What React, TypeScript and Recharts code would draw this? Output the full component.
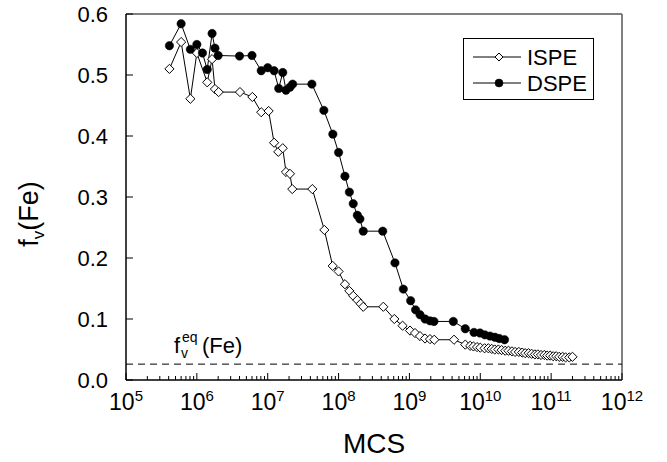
import React from "react";
import { ComposedChart, Line, XAxis, YAxis, ReferenceLine, ReferenceArea, Label } from "recharts";

// ISPE: open diamonds
const ispeMcs = [
  4.1e5, 6.0e5, 8.1e5, 1.0e6, 1.4e6, 1.64e6, 1.8e6, 2.03e6, 4.06e6, 6.07e6, 8.1e6, 1.03e7, 1.23e7, 1.41e7, 1.63e7,
  1.81e7, 2.06e7, 2.22e7, 4.26e7, 6.3e7, 8.26e7, 1.0e8, 1.23e8, 1.42e8, 1.61e8, 1.84e8, 2.05e8, 2.23e8, 4.28e8,
  6.12e8, 8.0e8, 1.02e9, 1.2e9, 1.41e9, 1.66e9, 1.95e9, 2.24e9, 4.26e9, 6.14e9, 7.2e9, 8.0e9, 9.0e9, 1.0e10,
  1.15e10, 1.3e10, 1.45e10, 1.6e10, 1.8e10, 2.0e10, 2.25e10, 2.5e10, 2.8e10, 3.1e10, 3.5e10, 3.9e10, 4.3e10, 4.8e10,
  5.3e10, 5.9e10, 6.5e10, 7.2e10, 8.0e10, 8.8e10, 9.7e10, 1.07e11, 1.18e11, 1.3e11, 1.45e11, 1.6e11, 1.8e11, 2.0e11,
];
const ispeFv = [
  0.51, 0.554, 0.461, 0.536, 0.488, 0.526, 0.477, 0.472, 0.472, 0.464, 0.439, 0.441, 0.389, 0.374, 0.38,
  0.341, 0.338, 0.313, 0.313, 0.246, 0.187, 0.178, 0.157, 0.146, 0.138, 0.131, 0.125, 0.12, 0.12,
  0.1, 0.089, 0.081, 0.077, 0.072, 0.068, 0.067, 0.066, 0.066, 0.058, 0.056, 0.055, 0.054, 0.053,
  0.052, 0.052, 0.051, 0.05, 0.05, 0.049, 0.048, 0.048, 0.047, 0.046, 0.046, 0.045, 0.044, 0.044,
  0.043, 0.042, 0.042, 0.041, 0.041, 0.04, 0.04, 0.039, 0.039, 0.038, 0.038, 0.037, 0.037, 0.038,
];

// DSPE: filled circles
const dspeMcs = [
  4.1e5, 6.0e5, 8.1e5, 1.0e6, 1.2e6, 1.4e6, 1.64e6, 1.8e6, 2.0e6, 4.0e6, 6.0e6, 8.1e6, 1.0e7, 1.23e7, 1.43e7,
  1.63e7, 1.81e7, 2.06e7, 2.25e7, 4.2e7, 6.2e7, 8.3e7, 1.0e8, 1.23e8, 1.42e8, 1.61e8, 1.84e8, 2.0e8, 2.23e8,
  4.2e8, 6.25e8, 8.2e8, 1.04e9, 1.22e9, 1.41e9, 1.66e9, 1.95e9, 2.22e9, 4.16e9, 6.14e9, 8.15e9, 9.9e9, 1.16e10,
  1.37e10, 1.61e10, 1.85e10, 2.2e10,
];
const dspeFv = [
  0.548, 0.584, 0.542, 0.55, 0.536, 0.509, 0.568, 0.544, 0.532, 0.531, 0.532, 0.507, 0.512, 0.507, 0.478,
  0.504, 0.475, 0.48, 0.485, 0.485, 0.442, 0.403, 0.373, 0.334, 0.308, 0.289, 0.27, 0.264, 0.244,
  0.244, 0.192, 0.149, 0.13, 0.115, 0.107, 0.1, 0.097, 0.096, 0.096, 0.084, 0.078, 0.077, 0.074,
  0.072, 0.07, 0.068, 0.066,
];

const fvEquilibrium = 0.026;
const xExponents = [5, 6, 7, 8, 9, 10, 11, 12];
const minorSteps = [2, 3, 4, 5, 6, 7, 8, 9];
const yTicks = [0, 0.1, 0.2, 0.3, 0.4, 0.5, 0.6];
const seriesNames = ["ISPE", "DSPE"];

const FONT = "'Liberation Sans', Arial, Helvetica, sans-serif";

const ispeData = ispeMcs.map((x, i) => ({ x, fv: ispeFv[i] }));
const dspeData = dspeMcs.map((x, i) => ({ x, fv: dspeFv[i] }));
const majorTicks = xExponents.map((e) => Math.pow(10, e));
const xTicks = [
  ...majorTicks,
  ...xExponents.slice(0, -1).flatMap((e) => minorSteps.map((m) => m * Math.pow(10, e))),
].sort((a, b) => a - b);

function XTick({ x, y, payload }: any) {
  const v = payload.value as number;
  const exp = Math.round(Math.log10(v));
  const major = Math.abs(v - Math.pow(10, exp)) / v < 1e-6;
  if (!major) return <line x1={x} x2={x} y1={y} y2={y - 4} stroke="#000" />;
  return (
    <g>
      <line x1={x} x2={x} y1={y} y2={y - 7} stroke="#000" />
      <text x={x} y={y + 30} textAnchor="middle" fontSize={23} fontFamily={FONT} fill="#000">
        10
        <tspan dy={-9} fontSize={15}>
          {exp}
        </tspan>
      </text>
    </g>
  );
}

function YTick({ x, y, payload }: any) {
  return (
    <g>
      <line x1={x} x2={x + 7} y1={y} y2={y} stroke="#000" />
      <text x={x - 18} y={y} dy="0.36em" textAnchor="end" fontSize={22} fontFamily={FONT} fill="#000">
        {Number(payload.value).toFixed(1)}
      </text>
    </g>
  );
}

function Diamond({ cx, cy, size = 4.6 }: any) {
  if (cx == null || cy == null) return null;
  return (
    <polygon
      points={`${cx},${cy - size} ${cx + size},${cy} ${cx},${cy + size} ${cx - size},${cy}`}
      fill="#fff"
      stroke="#000"
      strokeWidth={1}
    />
  );
}

function Dot({ cx, cy, r = 4.2 }: any) {
  if (cx == null || cy == null) return null;
  return <circle cx={cx} cy={cy} r={r} fill="#000" stroke="#000" strokeWidth={0.5} />;
}

function YTitle({ viewBox }: any) {
  const cx = viewBox.x + 38;
  const cy = viewBox.y + viewBox.height / 2 + 17;
  return (
    <text
      x={cx}
      y={cy}
      transform={`rotate(-90 ${cx} ${cy})`}
      textAnchor="middle"
      fontSize={27}
      fontFamily={FONT}
      fill="#000"
    >
      f
      <tspan dy={6} fontSize={17}>
        v
      </tspan>
      <tspan dy={-6}>(Fe)</tspan>
    </text>
  );
}

function XTitle({ viewBox }: any) {
  return (
    <text
      x={viewBox.x + viewBox.width / 2}
      y={viewBox.y + 73}
      textAnchor="middle"
      fontSize={28}
      fontFamily={FONT}
      fill="#000"
    >
      MCS
    </text>
  );
}

function EqLabel({ viewBox }: any) {
  const x = viewBox.x + 48;
  const y = viewBox.y - 11;
  return (
    <g fontFamily={FONT} fill="#000">
      <text x={x} y={y} fontSize={22}>
        f
      </text>
      <text x={x + 7} y={y + 5} fontSize={14}>
        v
      </text>
      <text x={x + 8} y={y - 11} fontSize={14}>
        eq
      </text>
      <text x={x + 28} y={y} fontSize={22}>
        (Fe)
      </text>
    </g>
  );
}

function LegendBox() {
  return (
    <svg
      width={131}
      height={62}
      style={{ position: "absolute", left: 463, top: 38, display: "block" }}
    >
      <rect x={0.5} y={0.5} width={130} height={61} fill="#fff" stroke="#000" />
      {seriesNames.map((name, i) => {
        const y = i === 0 ? 19 : 45;
        return (
          <g key={name}>
            <line x1={10} x2={58} y1={y} y2={y} stroke="#000" />
            {i === 0 ? <Diamond cx={36} cy={y} size={4} /> : <Dot cx={36} cy={y} r={4} />}
            <text x={64} y={y} dy="0.36em" fontSize={22} fontFamily={FONT} fill="#000">
              {name}
            </text>
          </g>
        );
      })}
    </svg>
  );
}

export default function App() {
  return (
    <div style={{ position: "absolute", left: 0, top: 0, width: 667, height: 462, background: "#fff" }}>
      <ComposedChart width={667} height={462} margin={{ top: 14, right: 45, bottom: 0, left: 0 }}>
        <XAxis
          type="number"
          dataKey="x"
          scale="log"
          domain={[1e5, 1e12]}
          ticks={xTicks}
          interval={0}
          allowDataOverflow
          height={82}
          tickSize={0}
          tickMargin={0}
          tickLine={false}
          tick={<XTick />}
          axisLine={{ stroke: "#000" }}
        >
          <Label content={<XTitle />} />
        </XAxis>
        <YAxis
          type="number"
          domain={[0, 0.6]}
          ticks={yTicks}
          interval={0}
          width={126}
          tickSize={0}
          tickMargin={0}
          tickLine={false}
          tick={<YTick />}
          axisLine={{ stroke: "#000" }}
        >
          <Label content={<YTitle />} />
        </YAxis>
        <ReferenceArea x1={1e5} x2={1e12} y1={0} y2={0.6} fill="none" stroke="#000" strokeWidth={1} />
        <ReferenceLine x={1e12} stroke="#808080" strokeWidth={1.5} />
        <ReferenceLine y={fvEquilibrium} stroke="#000" strokeDasharray="7 5" label={<EqLabel />} />
        <Line
          data={ispeData}
          dataKey="fv"
          name={seriesNames[0]}
          type="linear"
          stroke="#000"
          strokeWidth={1}
          isAnimationActive={false}
          dot={(p: any) => <Diamond key={`i-${p.index}`} cx={p.cx} cy={p.cy} />}
        />
        <Line
          data={dspeData}
          dataKey="fv"
          name={seriesNames[1]}
          type="linear"
          stroke="#000"
          strokeWidth={1}
          isAnimationActive={false}
          dot={(p: any) => <Dot key={`d-${p.index}`} cx={p.cx} cy={p.cy} />}
        />
      </ComposedChart>
      <LegendBox />
    </div>
  );
}
